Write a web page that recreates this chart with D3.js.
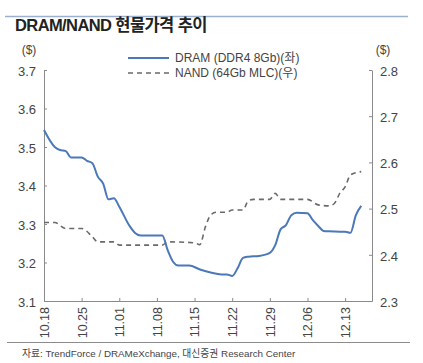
<!DOCTYPE html>
<html>
<head>
<meta charset="utf-8">
<script src="https://cdn.jsdelivr.net/npm/d3@7"></script>
<style>
  body { margin: 0; background: #fff; }
  text { font-family: Arial, "Liberation Sans", "Noto Sans CJK KR", sans-serif; }
</style>
</head>
<body>
<svg class="chart"></svg>
<script>
// dates (MM.DD, 2018) and prices
var dramDates = ["10.18","10.20","10.21","10.22","10.23","10.25","10.26","10.27","10.28","10.29","10.30","10.31",
                 "11.01","11.03","11.04","11.05","11.09","11.10","11.11","11.12","11.14","11.16","11.18","11.20",
                 "11.21","11.22","11.23","11.24","11.25","11.27","11.29","11.30","12.01","12.02","12.03","12.04",
                 "12.06","12.07","12.08","12.09","12.10","12.12","12.13","12.14","12.15","12.16"];
var dramValues = [3.544,3.50,3.492,3.49,3.473,3.473,3.464,3.458,3.423,3.405,3.364,3.367,
                  3.345,3.293,3.276,3.27,3.27,3.232,3.202,3.192,3.192,3.182,3.174,3.169,
                  3.169,3.165,3.185,3.212,3.215,3.217,3.225,3.245,3.286,3.297,3.323,3.329,
                  3.328,3.31,3.295,3.282,3.281,3.28,3.28,3.277,3.323,3.347];

var nandDates = ["10.18","10.20","10.22","10.25","10.27","10.28","10.31","11.01","11.09","11.10","11.15","11.16",
                 "11.17","11.18","11.19","11.21","11.22","11.24","11.25","11.26","11.29","11.30","12.01","12.06",
                 "12.08","12.10","12.11","12.12","12.13","12.14","12.16"];
var nandValues = [2.47,2.47,2.457,2.457,2.439,2.428,2.428,2.421,2.421,2.428,2.426,2.422,
                  2.46,2.486,2.492,2.492,2.497,2.497,2.517,2.52,2.52,2.533,2.52,2.52,
                  2.508,2.506,2.511,2.533,2.547,2.573,2.58];

var xTicks = ["10.18","10.25","11.01","11.08","11.15","11.22","11.29","12.06","12.13"];
var leftTicks = [3.1,3.2,3.3,3.4,3.5,3.6,3.7];
var rightTicks = [2.3,2.4,2.5,2.6,2.7,2.8];

var seriesNames = ["DRAM (DDR4 8Gb)(좌)", "NAND (64Gb MLC)(우)"];

var parse = function(s) { return d3.timeParse("%Y.%m.%d")("2018." + s); };

var screen = { width: 423, height: 363 };
var margins = { left: 44, right: 51, top: 70, bottom: 62 };

var svg = d3.select(".chart")
            .attr("width", screen.width)
            .attr("height", screen.height);

var xScale = d3.scaleTime()
               .domain([parse("10.18"), parse("12.18")])
               .range([margins.left, screen.width - margins.right]);

var yLeft = d3.scaleLinear()
              .domain([3.1, 3.7])
              .range([screen.height - margins.bottom, margins.top]);

var yRight = d3.scaleLinear()
               .domain([2.3, 2.8])
               .range([screen.height - margins.bottom, margins.top]);

// header & footer rules
svg.append("line").attr("x1", 5).attr("x2", 408).attr("y1", 16.5).attr("y2", 16.5)
   .attr("stroke", "#9bb0cc").attr("stroke-width", 1.5);
svg.append("line").attr("x1", 7).attr("x2", 410).attr("y1", 342.5).attr("y2", 342.5)
   .attr("stroke", "#8c8c8c").attr("stroke-width", 1);

svg.append("text")
   .attr("x", 15).attr("y", 31)
   .attr("font-size", 16.5).attr("font-weight", "bold").attr("fill", "#222")
   .attr("letter-spacing", -0.6)
   .text("DRAM/NAND 현물가격 추이");

svg.append("text")
   .attr("x", 22).attr("y", 357)
   .attr("font-size", 9.8).attr("fill", "#444")
   .text("자료: TrendForce / DRAMeXchange, 대신증권 Research Center");

// axes
var axisColor = "#8a8a8a";
var leftAxis = d3.axisLeft(yLeft).tickValues(leftTicks).tickFormat(d3.format(".1f"))
                 .tickSizeInner(-3).tickSizeOuter(0).tickPadding(8);
var rightAxis = d3.axisRight(yRight).tickValues(rightTicks).tickFormat(d3.format(".1f"))
                  .tickSizeInner(-3).tickSizeOuter(0).tickPadding(8);
var bottomAxis = d3.axisBottom(xScale).tickValues(xTicks.map(parse))
                   .tickFormat(d3.timeFormat("%m.%d")).tickSizeInner(-3).tickSizeOuter(0);

var gl = svg.append("g").attr("transform", "translate(" + margins.left + ",0)").call(leftAxis);
var gr = svg.append("g").attr("transform", "translate(" + (screen.width - margins.right) + ",0)").call(rightAxis);
var gb = svg.append("g").attr("transform", "translate(0," + (screen.height - margins.bottom) + ")").call(bottomAxis);

[gl, gr, gb].forEach(function(g) {
  g.select(".domain").attr("stroke", axisColor);
  g.selectAll(".tick line").attr("stroke", axisColor);
  g.selectAll("text").attr("fill", "#444").attr("font-size", 13)
   .attr("font-family", "Arial, 'Liberation Sans', sans-serif");
});
gl.selectAll(".tick text").attr("dy", "0.4em");
gr.selectAll(".tick text").attr("dy", "0.4em");
gb.selectAll(".tick text")
  .attr("font-size", 12.5)
  .attr("transform", "rotate(-90)")
  .attr("text-anchor", "end")
  .attr("x", -6).attr("y", 0).attr("dy", "0.35em");

svg.append("text").attr("x", 29).attr("y", 54).attr("text-anchor", "middle")
   .attr("font-size", 12).attr("fill", "#444").text("($)");
svg.append("text").attr("x", 383).attr("y", 54).attr("text-anchor", "middle")
   .attr("font-size", 12).attr("fill", "#444").text("($)");

// lines
var dram = dramDates.map(function(d, i) { return { date: parse(d), value: dramValues[i] }; });
var nand = nandDates.map(function(d, i) { return { date: parse(d), value: nandValues[i] }; });

var dramLine = d3.line().curve(d3.curveMonotoneX)
                 .x(function(d) { return xScale(d.date); })
                 .y(function(d) { return yLeft(d.value); });
var nandLine = d3.line().curve(d3.curveMonotoneX)
                 .x(function(d) { return xScale(d.date); })
                 .y(function(d) { return yRight(d.value); });

var dramColor = "#4a78b8";
var nandColor = "#6a6a6a";

svg.append("path").datum(nand).attr("d", nandLine)
   .attr("fill", "none").attr("stroke", nandColor).attr("stroke-width", 1.6)
   .attr("stroke-dasharray", "5,4");
svg.append("path").datum(dram).attr("d", dramLine)
   .attr("fill", "none").attr("stroke", dramColor).attr("stroke-width", 2);

// legend
var legend = svg.append("g").attr("transform", "translate(128,58)");
legend.append("line").attr("x1", 0).attr("x2", 41).attr("y1", 0).attr("y2", 0)
      .attr("stroke", dramColor).attr("stroke-width", 2);
legend.append("line").attr("x1", 0).attr("x2", 41).attr("y1", 15).attr("y2", 15)
      .attr("stroke", nandColor).attr("stroke-width", 1.6).attr("stroke-dasharray", "5,4");
legend.selectAll("text.lg").data(seriesNames).enter().append("text")
      .attr("class", "lg")
      .attr("x", 47).attr("y", function(d, i) { return i * 15 + 4; })
      .attr("font-size", 12).attr("fill", "#444")
      .text(function(d) { return d; });
</script>
</body>
</html>
